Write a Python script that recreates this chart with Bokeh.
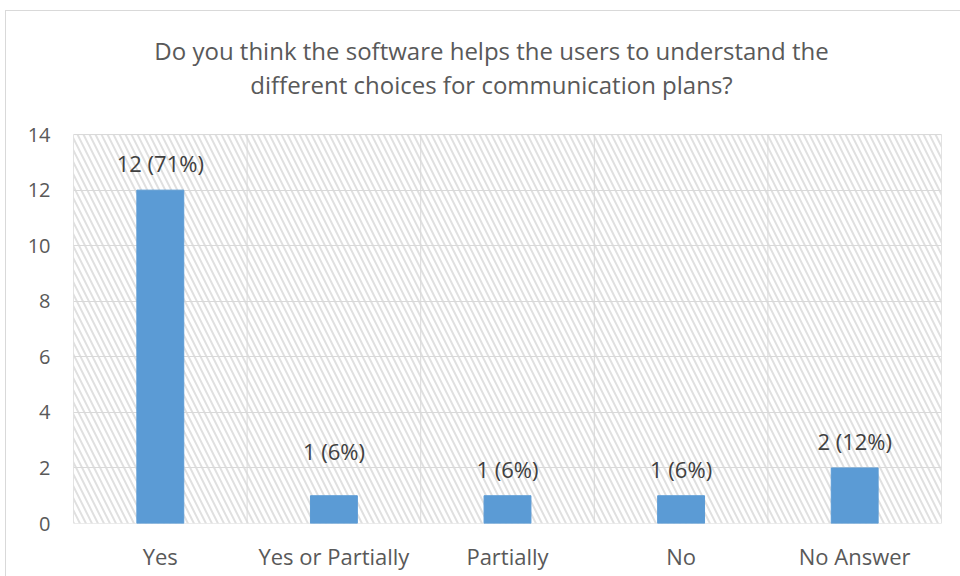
from bokeh.plotting import figure
from bokeh.models import ColumnDataSource, FixedTicker, LabelSet, Range1d
from bokeh.core.properties import value
from bokeh.embed import file_html
from bokeh.resources import INLINE

categories = ["Yes", "Yes or Partially", "Partially", "No", "No Answer"]
counts = [12, 1, 1, 1, 2]
labels = ["12 (71%)", "1 (6%)", "1 (6%)", "1 (6%)", "2 (12%)"]
title_lines = ["Do you think the software helps the users to understand the",
               "different choices for communication plans?"]
y_ticks = list(range(0, 15, 2))
Y_TOP = 14            # value axis maximum
Y_VIEW = 18.43        # extra headroom in the frame that holds the title

xs = list(range(len(categories)))
src = ColumnDataSource(dict(x=xs, top=counts, lab=labels))
# the "Yes or Partially" label sits higher in the original
main_idx = [0, 2, 3, 4]
src_main = ColumnDataSource(dict(x=[xs[i] for i in main_idx],
                                 top=[counts[i] for i in main_idx],
                                 lab=[labels[i] for i in main_idx]))
src_high = ColumnDataSource(dict(x=[xs[1]], top=[counts[1]], lab=[labels[1]]))

FONT = "Open Sans"
GRAY = "#595959"
GRID = "#d9d9d9"

p = figure(width=955, height=566, x_range=Range1d(-0.5, 4.5),
           y_range=Range1d(0, Y_VIEW),
           output_backend="svg", toolbar_location=None,
           min_border_left=67, min_border_right=20,
           min_border_top=0, min_border_bottom=54)
p.margin = (10, 0, 0, 5)
p.styles = {"border-top": "1px solid #d9d9d9", "border-left": "1px solid #d9d9d9"}
p.outline_line_color = None
p.background_fill_color = "white"
p.border_fill_color = "white"

# hatched plot-area background (with its frame)
p.quad(left=[-0.5], right=[4.5], bottom=[0], top=[Y_TOP], fill_alpha=0,
       line_color=GRID, line_width=1, hatch_pattern="\\", hatch_color="#e0e0e0",
       hatch_scale=12, hatch_weight=2, level="image")

# category separators (vertical gridlines) limited to the value area
bounds = [x - 0.5 for x in xs] + [xs[-1] + 0.5]
p.segment(x0=bounds, x1=bounds, y0=[0] * len(bounds), y1=[Y_TOP] * len(bounds),
          line_color=GRID, line_width=1, level="underlay")

p.vbar(x="x", top="top", width=0.27, source=src, color="#5B9BD5")

for s, off in ((src_main, 18), (src_high, 36)):
    p.add_layout(LabelSet(x="x", y="top", text="lab", source=s, y_offset=off,
                          text_align="center", text_baseline="alphabetic",
                          text_font=value(FONT), text_font_size="22px",
                          text_color="#404040"))

p.xaxis.ticker = FixedTicker(ticks=xs)
p.xaxis.major_label_overrides = {i: c for i, c in enumerate(categories)}
p.yaxis.ticker = FixedTicker(ticks=y_ticks)
for ax in (p.xaxis[0], p.yaxis[0]):
    ax.axis_line_color = None
    ax.major_tick_line_color = None
    ax.minor_tick_line_color = None
    ax.major_label_text_font = FONT
    ax.major_label_text_color = GRAY
p.xaxis.major_label_text_font_size = "22px"
p.yaxis.major_label_text_font_size = "20px"
p.xaxis.major_label_standoff = 11
p.yaxis.major_label_standoff = 17

p.xgrid.visible = False
p.ygrid.ticker = FixedTicker(ticks=y_ticks)
p.ygrid.grid_line_color = GRID

# two-line title inside the headroom
p.text(x=[1.908, 1.908], y=[17.02, 15.80], text=title_lines,
       text_align="center", text_baseline="alphabetic",
       text_font=value(FONT), text_font_size="24px", text_color=GRAY)

open("out.html", "w").write(file_html(p, INLINE))
